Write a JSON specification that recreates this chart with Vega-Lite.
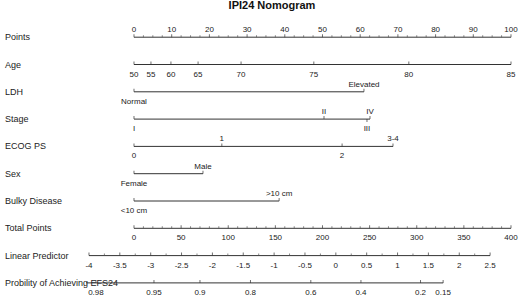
{
  "$schema": "https://vega.github.io/schema/vega-lite/v6.json",
  "width": 520,
  "height": 301,
  "autosize": {"type": "fit", "contains": "padding"},
  "padding": 0,
  "background": "white",
  "title": {"text": "IPI24 Nomogram", "fontSize": 11, "fontWeight": "bold", "font": "Liberation Sans", "color": "#111", "anchor": "middle", "offset": 2, "dx": 12, "dy": 4},
  "config": {"view": {"stroke": null}},
  "datasets": {
    "lines": [
      {"row": "Points", "x1": 0, "x2": 100},
      {"row": "Age", "x1": 0, "x2": 100},
      {"row": "LDH", "x1": 0, "x2": 61},
      {"row": "Stage", "x1": 0, "x2": 62.6},
      {"row": "ECOG PS", "x1": 0, "x2": 68.7},
      {"row": "Sex", "x1": 0, "x2": 18.3},
      {"row": "Bulky Disease", "x1": 0, "x2": 38.5},
      {"row": "Total Points", "x1": 0, "x2": 100},
      {"row": "Linear Predictor", "x1": -11.94, "x2": 94.46},
      {"row": "Probility of Achieving EFS24", "x1": -12.7, "x2": 82.0}
    ],
    "ticks": [
      {"row": "Points", "pts": 0, "kind": "major"}, {"row": "Points", "pts": 10, "kind": "major"}, {"row": "Points", "pts": 20, "kind": "major"}, {"row": "Points", "pts": 30, "kind": "major"}, {"row": "Points", "pts": 40, "kind": "major"}, {"row": "Points", "pts": 50, "kind": "major"}, {"row": "Points", "pts": 60, "kind": "major"}, {"row": "Points", "pts": 70, "kind": "major"}, {"row": "Points", "pts": 80, "kind": "major"}, {"row": "Points", "pts": 90, "kind": "major"}, {"row": "Points", "pts": 100, "kind": "major"},
      {"row": "Points", "pts": 2.5, "kind": "minor"}, {"row": "Points", "pts": 5, "kind": "minor"}, {"row": "Points", "pts": 7.5, "kind": "minor"},
      {"row": "Points", "pts": 12.5, "kind": "minor"}, {"row": "Points", "pts": 15, "kind": "minor"}, {"row": "Points", "pts": 17.5, "kind": "minor"},
      {"row": "Points", "pts": 22.5, "kind": "minor"}, {"row": "Points", "pts": 25, "kind": "minor"}, {"row": "Points", "pts": 27.5, "kind": "minor"},
      {"row": "Points", "pts": 32.5, "kind": "minor"}, {"row": "Points", "pts": 35, "kind": "minor"}, {"row": "Points", "pts": 37.5, "kind": "minor"},
      {"row": "Points", "pts": 42.5, "kind": "minor"}, {"row": "Points", "pts": 45, "kind": "minor"}, {"row": "Points", "pts": 47.5, "kind": "minor"},
      {"row": "Points", "pts": 52.5, "kind": "minor"}, {"row": "Points", "pts": 55, "kind": "minor"}, {"row": "Points", "pts": 57.5, "kind": "minor"},
      {"row": "Points", "pts": 62.5, "kind": "minor"}, {"row": "Points", "pts": 65, "kind": "minor"}, {"row": "Points", "pts": 67.5, "kind": "minor"},
      {"row": "Points", "pts": 72.5, "kind": "minor"}, {"row": "Points", "pts": 75, "kind": "minor"}, {"row": "Points", "pts": 77.5, "kind": "minor"},
      {"row": "Points", "pts": 82.5, "kind": "minor"}, {"row": "Points", "pts": 85, "kind": "minor"}, {"row": "Points", "pts": 87.5, "kind": "minor"},
      {"row": "Points", "pts": 92.5, "kind": "minor"}, {"row": "Points", "pts": 95, "kind": "minor"}, {"row": "Points", "pts": 97.5, "kind": "minor"},
      {"row": "Age", "pts": 0, "kind": "major"}, {"row": "Age", "pts": 4.5, "kind": "major"}, {"row": "Age", "pts": 9.8, "kind": "major"}, {"row": "Age", "pts": 17, "kind": "major"}, {"row": "Age", "pts": 28.4, "kind": "major"}, {"row": "Age", "pts": 47.7, "kind": "major"}, {"row": "Age", "pts": 72.9, "kind": "major"}, {"row": "Age", "pts": 100, "kind": "major"},
      {"row": "LDH", "pts": 0, "kind": "major"}, {"row": "LDH", "pts": 61, "kind": "major"},
      {"row": "Stage", "pts": 0, "kind": "major"}, {"row": "Stage", "pts": 50.4, "kind": "major"}, {"row": "Stage", "pts": 62.6, "kind": "major"}, {"row": "Stage", "pts": 61.8, "kind": "down"},
      {"row": "ECOG PS", "pts": 0, "kind": "major"}, {"row": "ECOG PS", "pts": 23.3, "kind": "major"}, {"row": "ECOG PS", "pts": 55.2, "kind": "major"}, {"row": "ECOG PS", "pts": 68.7, "kind": "major"},
      {"row": "Sex", "pts": 0, "kind": "major"}, {"row": "Sex", "pts": 18.3, "kind": "major"},
      {"row": "Bulky Disease", "pts": 0, "kind": "major"}, {"row": "Bulky Disease", "pts": 38.5, "kind": "major"},
      {"row": "Total Points", "pts": 0, "kind": "major"}, {"row": "Total Points", "pts": 12.5, "kind": "major"}, {"row": "Total Points", "pts": 25, "kind": "major"}, {"row": "Total Points", "pts": 37.5, "kind": "major"}, {"row": "Total Points", "pts": 50, "kind": "major"}, {"row": "Total Points", "pts": 62.5, "kind": "major"}, {"row": "Total Points", "pts": 75, "kind": "major"}, {"row": "Total Points", "pts": 87.5, "kind": "major"}, {"row": "Total Points", "pts": 100, "kind": "major"},
      {"row": "Total Points", "pts": 2.5, "kind": "minor"}, {"row": "Total Points", "pts": 5, "kind": "minor"}, {"row": "Total Points", "pts": 7.5, "kind": "minor"}, {"row": "Total Points", "pts": 10, "kind": "minor"},
      {"row": "Total Points", "pts": 15, "kind": "minor"}, {"row": "Total Points", "pts": 17.5, "kind": "minor"}, {"row": "Total Points", "pts": 20, "kind": "minor"}, {"row": "Total Points", "pts": 22.5, "kind": "minor"},
      {"row": "Total Points", "pts": 27.5, "kind": "minor"}, {"row": "Total Points", "pts": 30, "kind": "minor"}, {"row": "Total Points", "pts": 32.5, "kind": "minor"}, {"row": "Total Points", "pts": 35, "kind": "minor"},
      {"row": "Total Points", "pts": 40, "kind": "minor"}, {"row": "Total Points", "pts": 42.5, "kind": "minor"}, {"row": "Total Points", "pts": 45, "kind": "minor"}, {"row": "Total Points", "pts": 47.5, "kind": "minor"},
      {"row": "Total Points", "pts": 52.5, "kind": "minor"}, {"row": "Total Points", "pts": 55, "kind": "minor"}, {"row": "Total Points", "pts": 57.5, "kind": "minor"}, {"row": "Total Points", "pts": 60, "kind": "minor"},
      {"row": "Total Points", "pts": 65, "kind": "minor"}, {"row": "Total Points", "pts": 67.5, "kind": "minor"}, {"row": "Total Points", "pts": 70, "kind": "minor"}, {"row": "Total Points", "pts": 72.5, "kind": "minor"},
      {"row": "Total Points", "pts": 77.5, "kind": "minor"}, {"row": "Total Points", "pts": 80, "kind": "minor"}, {"row": "Total Points", "pts": 82.5, "kind": "minor"}, {"row": "Total Points", "pts": 85, "kind": "minor"},
      {"row": "Total Points", "pts": 90, "kind": "minor"}, {"row": "Total Points", "pts": 92.5, "kind": "minor"}, {"row": "Total Points", "pts": 95, "kind": "minor"}, {"row": "Total Points", "pts": 97.5, "kind": "minor"},
      {"row": "Linear Predictor", "pts": -11.94, "kind": "major"}, {"row": "Linear Predictor", "pts": -3.76, "kind": "major"}, {"row": "Linear Predictor", "pts": 4.43, "kind": "major"}, {"row": "Linear Predictor", "pts": 12.61, "kind": "major"}, {"row": "Linear Predictor", "pts": 20.8, "kind": "major"}, {"row": "Linear Predictor", "pts": 28.98, "kind": "major"}, {"row": "Linear Predictor", "pts": 37.17, "kind": "major"}, {"row": "Linear Predictor", "pts": 45.35, "kind": "major"}, {"row": "Linear Predictor", "pts": 53.54, "kind": "major"}, {"row": "Linear Predictor", "pts": 61.72, "kind": "major"}, {"row": "Linear Predictor", "pts": 69.91, "kind": "major"}, {"row": "Linear Predictor", "pts": 78.09, "kind": "major"}, {"row": "Linear Predictor", "pts": 86.28, "kind": "major"}, {"row": "Linear Predictor", "pts": 94.46, "kind": "major"},
      {"row": "Linear Predictor", "pts": -7.85, "kind": "minor"}, {"row": "Linear Predictor", "pts": 0.34, "kind": "minor"}, {"row": "Linear Predictor", "pts": 8.52, "kind": "minor"}, {"row": "Linear Predictor", "pts": 16.71, "kind": "minor"}, {"row": "Linear Predictor", "pts": 24.89, "kind": "minor"}, {"row": "Linear Predictor", "pts": 33.08, "kind": "minor"}, {"row": "Linear Predictor", "pts": 41.26, "kind": "minor"}, {"row": "Linear Predictor", "pts": 49.45, "kind": "minor"}, {"row": "Linear Predictor", "pts": 57.63, "kind": "minor"}, {"row": "Linear Predictor", "pts": 65.82, "kind": "minor"}, {"row": "Linear Predictor", "pts": 74.0, "kind": "minor"}, {"row": "Linear Predictor", "pts": 82.19, "kind": "minor"}, {"row": "Linear Predictor", "pts": 90.37, "kind": "minor"},
      {"row": "Probility of Achieving EFS24", "pts": -10.1, "kind": "major"}, {"row": "Probility of Achieving EFS24", "pts": 5.3, "kind": "major"}, {"row": "Probility of Achieving EFS24", "pts": 17.5, "kind": "major"}, {"row": "Probility of Achieving EFS24", "pts": 30.9, "kind": "major"}, {"row": "Probility of Achieving EFS24", "pts": 46.9, "kind": "major"}, {"row": "Probility of Achieving EFS24", "pts": 60.2, "kind": "major"}, {"row": "Probility of Achieving EFS24", "pts": 76.0, "kind": "major"}, {"row": "Probility of Achieving EFS24", "pts": 82.0, "kind": "major"}
    ],
    "labels": [
      {"row": "Points", "pts": 0, "label": "0", "pos": "above"}, {"row": "Points", "pts": 10, "label": "10", "pos": "above"}, {"row": "Points", "pts": 20, "label": "20", "pos": "above"}, {"row": "Points", "pts": 30, "label": "30", "pos": "above"}, {"row": "Points", "pts": 40, "label": "40", "pos": "above"}, {"row": "Points", "pts": 50, "label": "50", "pos": "above"}, {"row": "Points", "pts": 60, "label": "60", "pos": "above"}, {"row": "Points", "pts": 70, "label": "70", "pos": "above"}, {"row": "Points", "pts": 80, "label": "80", "pos": "above"}, {"row": "Points", "pts": 90, "label": "90", "pos": "above"}, {"row": "Points", "pts": 100, "label": "100", "pos": "above"},
      {"row": "Age", "pts": 0, "label": "50", "pos": "below"}, {"row": "Age", "pts": 4.5, "label": "55", "pos": "below"}, {"row": "Age", "pts": 9.8, "label": "60", "pos": "below"}, {"row": "Age", "pts": 17, "label": "65", "pos": "below"}, {"row": "Age", "pts": 28.4, "label": "70", "pos": "below"}, {"row": "Age", "pts": 47.7, "label": "75", "pos": "below"}, {"row": "Age", "pts": 72.9, "label": "80", "pos": "below"}, {"row": "Age", "pts": 100, "label": "85", "pos": "below"},
      {"row": "LDH", "pts": 0, "label": "Normal", "pos": "below"}, {"row": "LDH", "pts": 61, "label": "Elevated", "pos": "above"},
      {"row": "Stage", "pts": 0, "label": "I", "pos": "below"}, {"row": "Stage", "pts": 50.4, "label": "II", "pos": "above"}, {"row": "Stage", "pts": 62.6, "label": "IV", "pos": "above"}, {"row": "Stage", "pts": 61.8, "label": "III", "pos": "below"},
      {"row": "ECOG PS", "pts": 0, "label": "0", "pos": "below"}, {"row": "ECOG PS", "pts": 23.3, "label": "1", "pos": "above"}, {"row": "ECOG PS", "pts": 55.2, "label": "2", "pos": "below"}, {"row": "ECOG PS", "pts": 68.7, "label": "3-4", "pos": "above"},
      {"row": "Sex", "pts": 0, "label": "Female", "pos": "below"}, {"row": "Sex", "pts": 18.3, "label": "Male", "pos": "above"},
      {"row": "Bulky Disease", "pts": 0, "label": "<10 cm", "pos": "below"}, {"row": "Bulky Disease", "pts": 38.5, "label": ">10 cm", "pos": "above"},
      {"row": "Total Points", "pts": 0, "label": "0", "pos": "below"}, {"row": "Total Points", "pts": 12.5, "label": "50", "pos": "below"}, {"row": "Total Points", "pts": 25, "label": "100", "pos": "below"}, {"row": "Total Points", "pts": 37.5, "label": "150", "pos": "below"}, {"row": "Total Points", "pts": 50, "label": "200", "pos": "below"}, {"row": "Total Points", "pts": 62.5, "label": "250", "pos": "below"}, {"row": "Total Points", "pts": 75, "label": "300", "pos": "below"}, {"row": "Total Points", "pts": 87.5, "label": "350", "pos": "below"}, {"row": "Total Points", "pts": 100, "label": "400", "pos": "below"},
      {"row": "Linear Predictor", "pts": -11.94, "label": "-4", "pos": "below"}, {"row": "Linear Predictor", "pts": -3.76, "label": "-3.5", "pos": "below"}, {"row": "Linear Predictor", "pts": 4.43, "label": "-3", "pos": "below"}, {"row": "Linear Predictor", "pts": 12.61, "label": "-2.5", "pos": "below"}, {"row": "Linear Predictor", "pts": 20.8, "label": "-2", "pos": "below"}, {"row": "Linear Predictor", "pts": 28.98, "label": "-1.5", "pos": "below"}, {"row": "Linear Predictor", "pts": 37.17, "label": "-1", "pos": "below"}, {"row": "Linear Predictor", "pts": 45.35, "label": "-0.5", "pos": "below"}, {"row": "Linear Predictor", "pts": 53.54, "label": "0", "pos": "below"}, {"row": "Linear Predictor", "pts": 61.72, "label": "0.5", "pos": "below"}, {"row": "Linear Predictor", "pts": 69.91, "label": "1", "pos": "below"}, {"row": "Linear Predictor", "pts": 78.09, "label": "1.5", "pos": "below"}, {"row": "Linear Predictor", "pts": 86.28, "label": "2", "pos": "below"}, {"row": "Linear Predictor", "pts": 94.46, "label": "2.5", "pos": "below"},
      {"row": "Probility of Achieving EFS24", "pts": -10.1, "label": "0.98", "pos": "below"}, {"row": "Probility of Achieving EFS24", "pts": 5.3, "label": "0.95", "pos": "below"}, {"row": "Probility of Achieving EFS24", "pts": 17.5, "label": "0.9", "pos": "below"}, {"row": "Probility of Achieving EFS24", "pts": 30.9, "label": "0.8", "pos": "below"}, {"row": "Probility of Achieving EFS24", "pts": 46.9, "label": "0.6", "pos": "below"}, {"row": "Probility of Achieving EFS24", "pts": 60.2, "label": "0.4", "pos": "below"}, {"row": "Probility of Achieving EFS24", "pts": 76.0, "label": "0.2", "pos": "below"}, {"row": "Probility of Achieving EFS24", "pts": 82.0, "label": "0.15", "pos": "below"}
    ],
    "rows": [
      {"row": "Points", "pts": -34.2},
      {"row": "Age", "pts": -34.2},
      {"row": "LDH", "pts": -34.2},
      {"row": "Stage", "pts": -34.2},
      {"row": "ECOG PS", "pts": -34.2},
      {"row": "Sex", "pts": -34.2},
      {"row": "Bulky Disease", "pts": -34.2},
      {"row": "Total Points", "pts": -34.2},
      {"row": "Linear Predictor", "pts": -34.2},
      {"row": "Probility of Achieving EFS24", "pts": -34.2}
    ]
  },
  "layer": [
    {
      "data": {"name": "lines"},
      "mark": {"type": "rule", "color": "#333", "strokeWidth": 1},
      "encoding": {
        "x": {"field": "x1", "type": "quantitative", "scale": {"domain": [-35.54, 102.39], "nice": false, "zero": false}, "axis": null},
        "x2": {"field": "x2"},
        "y": {"field": "row", "type": "nominal", "sort": null, "scale": {"type": "point", "padding": 0, "domain": ["Points", "Age", "LDH", "Stage", "ECOG PS", "Sex", "Bulky Disease", "Total Points", "Linear Predictor", "Probility of Achieving EFS24"], "range": [28.2, 273.9]}, "axis": null}
      }
    },
    {
      "data": {"name": "ticks"},
      "transform": [{"filter": "datum.kind === 'major'"}],
      "mark": {"type": "tick", "orient": "vertical", "size": 3, "thickness": 1, "color": "#333", "yOffset": -1.5},
      "encoding": {
        "x": {"field": "pts", "type": "quantitative"},
        "y": {"field": "row", "type": "nominal", "sort": null}
      }
    },
    {
      "data": {"name": "ticks"},
      "transform": [{"filter": "datum.kind === 'minor'"}],
      "mark": {"type": "tick", "orient": "vertical", "size": 2, "thickness": 1, "color": "#555", "yOffset": -1},
      "encoding": {
        "x": {"field": "pts", "type": "quantitative"},
        "y": {"field": "row", "type": "nominal", "sort": null}
      }
    },
    {
      "data": {"name": "ticks"},
      "transform": [{"filter": "datum.kind === 'down'"}],
      "mark": {"type": "tick", "orient": "vertical", "size": 3, "thickness": 1, "color": "#333", "yOffset": 1.5},
      "encoding": {
        "x": {"field": "pts", "type": "quantitative"},
        "y": {"field": "row", "type": "nominal", "sort": null}
      }
    },
    {
      "data": {"name": "labels"},
      "transform": [{"filter": "datum.pos === 'above'"}],
      "mark": {"type": "text", "font": "Liberation Sans", "fontSize": 8, "color": "#222", "align": "center", "baseline": "bottom", "dy": -3},
      "encoding": {
        "x": {"field": "pts", "type": "quantitative"},
        "y": {"field": "row", "type": "nominal", "sort": null},
        "text": {"field": "label", "type": "nominal"}
      }
    },
    {
      "data": {"name": "labels"},
      "transform": [{"filter": "datum.pos === 'below'"}],
      "mark": {"type": "text", "font": "Liberation Sans", "fontSize": 8, "color": "#222", "align": "center", "baseline": "top", "dy": 6},
      "encoding": {
        "x": {"field": "pts", "type": "quantitative"},
        "y": {"field": "row", "type": "nominal", "sort": null},
        "text": {"field": "label", "type": "nominal"}
      }
    },
    {
      "data": {"name": "rows"},
      "mark": {"type": "text", "font": "Liberation Sans", "fontSize": 9, "color": "#222", "align": "left", "baseline": "middle"},
      "encoding": {
        "x": {"field": "pts", "type": "quantitative"},
        "y": {"field": "row", "type": "nominal", "sort": null},
        "text": {"field": "row", "type": "nominal"}
      }
    }
  ]
}
